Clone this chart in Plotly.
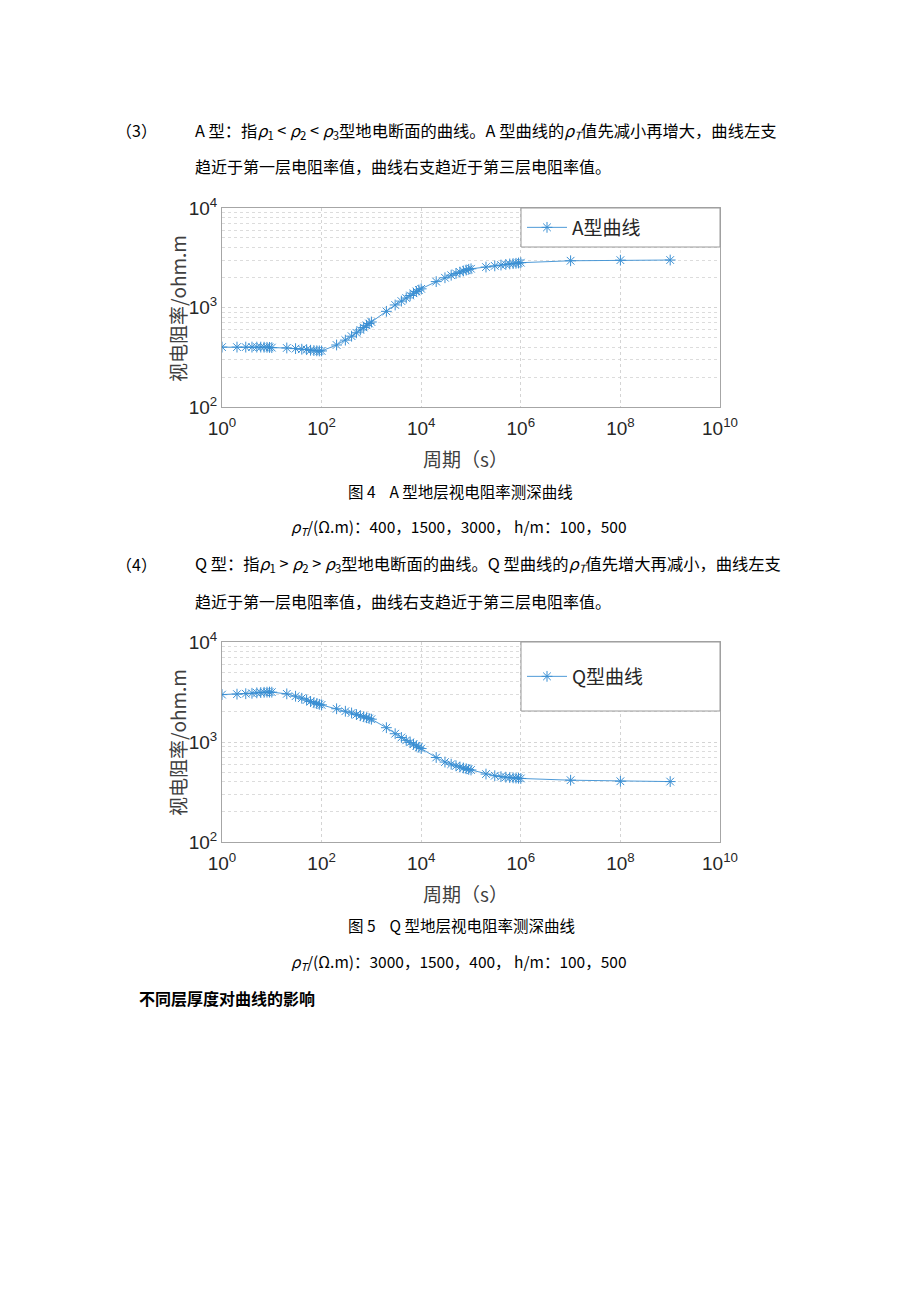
import plotly.graph_objects as go

# page is rendered with an 8px body margin; size the figure to fit inside it
OFF = 8
W, H = 920 - 2 * OFF, 1302 - 2 * OFF

# ---------------- data ----------------
periods = [1, 2, 3, 4, 5, 6, 7, 8, 9,
           10, 20, 30, 40, 50, 60, 70, 80, 90,
           100, 200, 300, 400, 500, 600, 700, 800, 900,
           1000, 2000, 3000, 4000, 5000, 6000, 7000, 8000, 9000,
           1e4, 2e4, 3e4, 4e4, 5e4, 6e4, 7e4, 8e4, 9e4,
           1e5, 2e5, 3e5, 4e5, 5e5, 6e5, 7e5, 8e5, 9e5,
           1e6, 1e7, 1e8, 1e9]

rho_A = [400, 400, 400, 400, 400, 400, 399, 398, 397,
         395, 392, 386, 381, 377, 372, 369, 367, 366,
         366, 420, 470, 515, 557, 595, 630, 662, 690,
         715, 915, 1060, 1160, 1245, 1320, 1390, 1450, 1500,
         1540, 1820, 1990, 2110, 2200, 2270, 2330, 2380, 2420,
         2450, 2550, 2620, 2670, 2710, 2740, 2760, 2780, 2800,
         2820, 2950, 2990, 3000]

rho_Q = [2980, 3010, 3040, 3070, 3100, 3120, 3140, 3150, 3155,
         3150, 3030, 2870, 2740, 2630, 2540, 2470, 2420, 2380,
         2350, 2150, 2030, 1950, 1880, 1830, 1790, 1750, 1720,
         1690, 1390, 1210, 1110, 1040, 990, 950, 915, 885,
         860, 700, 630, 600, 578, 562, 550, 540, 532,
         525, 478, 460, 450, 445, 441, 438, 436, 434,
         432, 415, 405, 402]

x_tickvals = [1, 1e2, 1e4, 1e6, 1e8, 1e10]
x_ticktext = ["10<sup>0</sup>", "10<sup>2</sup>", "10<sup>4</sup>",
              "10<sup>6</sup>", "10<sup>8</sup>", "10<sup>10</sup>"]
y_tickvals = [1e2, 1e3, 1e4]
y_ticktext = ["10<sup>2</sup>", "10<sup>3</sup>", "10<sup>4</sup>"]

series_names = ["A型曲线", "Q型曲线"]

# ---------------- helpers (page pixel -> paper fraction) ----------------
def px(x):
    return (x - OFF) / W

def py(y):
    return 1 - (y - OFF) / H

CJK = "Noto Sans CJK SC"
LAT = "Liberation Sans, Arial"
LINE_COLOR = "#3a8fd3"
AXIS_COLOR = "#a6a6a6"
GRID_COLOR = "#d4d4d4"
NB = "\u00a0"

fig = go.Figure()

panels = [
    dict(xa="x", ya="y", top=208, bottom=407, vals=rho_A, name=series_names[0],
         leg="legend", legbox=(521, 208, 720, 247)),
    dict(xa="x2", ya="y2", top=642, bottom=842, vals=rho_Q, name=series_names[1],
         leg="legend2", legbox=(521, 642, 720, 711)),
]

shapes = []
for i, p in enumerate(panels):
    fig.add_trace(go.Scatter(
        x=periods, y=p["vals"], name=p["name"], mode="lines+markers",
        xaxis=p["xa"], yaxis=p["ya"], legend=p["leg"],
        line=dict(color=LINE_COLOR, width=0.9),
        marker=dict(symbol="asterisk-open", size=9,
                    color=LINE_COLOR, line=dict(color=LINE_COLOR, width=1)),
    ))
    sfx = "" if i == 0 else "2"
    fig.update_layout(**{
        "xaxis" + sfx: dict(
            type="log", range=[0, 10], domain=[px(222), px(720)],
            anchor="y" + sfx, tickvals=x_tickvals, ticktext=x_ticktext,
            showline=True, mirror=True, linecolor=AXIS_COLOR, linewidth=1,
            showgrid=True, gridcolor=GRID_COLOR, griddash="dot", gridwidth=1,
            zeroline=False, ticks="", automargin=False, ticklabelstandoff=4,
            tickfont=dict(family=LAT, size=19, color="#262626"),
        ),
        "yaxis" + sfx: dict(
            type="log", range=[2, 4], domain=[py(p["bottom"]), py(p["top"])],
            anchor="x" + sfx, tickvals=y_tickvals, ticktext=y_ticktext,
            showline=True, mirror=True, linecolor=AXIS_COLOR, linewidth=1,
            showgrid=True, gridcolor=GRID_COLOR, griddash="dot", gridwidth=1,
            minor=dict(showgrid=True, gridcolor="#dcdcdc", griddash="dot",
                       gridwidth=1, dtick="D1"),
            zeroline=False, ticks="", automargin=False,
            tickfont=dict(family=LAT, size=19, color="#262626"),
        ),
    })
    x0, y0, x1, y1 = p["legbox"]
    shapes.append(dict(type="rect", xref="paper", yref="paper",
                       x0=px(x0), x1=px(x1), y0=py(y1), y1=py(y0),
                       line=dict(color="#9a9a9a", width=1),
                       fillcolor="white", layer="above"))
    fig.update_layout(**{
        p["leg"]: dict(
            x=px(522), y=py((y0 + y1) / 2), xanchor="left", yanchor="middle",
            bgcolor="rgba(0,0,0,0)", borderwidth=0,
            font=dict(family=CJK, size=19, color="#262626"),
            itemwidth=40,
        )
    })

annotations = []

def ann(text, x, y, size=16, xanchor="left", family=CJK, color="#000000",
        angle=0):
    annotations.append(dict(text=text, x=px(x), y=py(y), xref="paper",
                            yref="paper", showarrow=False, xanchor=xanchor,
                            yanchor="middle", textangle=angle,
                            font=dict(family=family, size=size, color=color)))

rho = "<i>ρ</i>"
LT = NB + "<" + NB
GT = NB + ">" + NB
# section (3)
ann("（3）", 114, 130)
ann("A 型：指" + rho + "<sub>1</sub>" + LT + rho + "<sub>2</sub>" + LT + rho
    + "<sub>3</sub>型地电断面的曲线。A 型曲线的" + rho
    + "<sub><i>T</i></sub>值先减小再增大，曲线左支", 193, 130, size=16.3)
ann("趋近于第一层电阻率值，曲线右支趋近于第三层电阻率值。", 193, 166)

# chart 1 titles
ann("视电阻率/ohm.m", 177, 309, size=19, xanchor="center", color="#404040", angle=-90)
ann("周期（s）", 466, 458, size=19, xanchor="center", color="#404040")
ann("图 4" + NB * 4 + "A 型地层视电阻率测深曲线", 460, 491, size=15.5, xanchor="center")
ann(rho + "<sub><i>T</i></sub>/(Ω.m)：400，1500，3000，" + NB + "h/m：100，500",
    459, 527, size=15.5, xanchor="center")

# section (4)
ann("（4）", 114, 564)
ann("Q 型：指" + rho + "<sub>1</sub>" + GT + rho + "<sub>2</sub>" + GT + rho
    + "<sub>3</sub>型地电断面的曲线。Q 型曲线的" + rho
    + "<sub><i>T</i></sub>值先增大再减小，曲线左支", 193, 564, size=16.3)
ann("趋近于第一层电阻率值，曲线右支趋近于第三层电阻率值。", 193, 601)

# chart 2 titles
ann("视电阻率/ohm.m", 177, 743, size=19, xanchor="center", color="#404040", angle=-90)
ann("周期（s）", 466, 893, size=19, xanchor="center", color="#404040")
ann("图 5" + NB * 4 + "Q 型地层视电阻率测深曲线", 462, 925, size=15.5, xanchor="center")
ann(rho + "<sub><i>T</i></sub>/(Ω.m)：3000，1500，400，" + NB + "h/m：100，500",
    459, 962, size=15.5, xanchor="center")

ann("<b>不同层厚度对曲线的影响</b>", 137, 998, size=16)

fig.update_layout(
    width=W, height=H, margin=dict(l=0, r=0, t=0, b=0, autoexpand=False),
    paper_bgcolor="white", plot_bgcolor="white",
    showlegend=True, shapes=shapes, annotations=annotations,
)

fig.write_html("out.html")
